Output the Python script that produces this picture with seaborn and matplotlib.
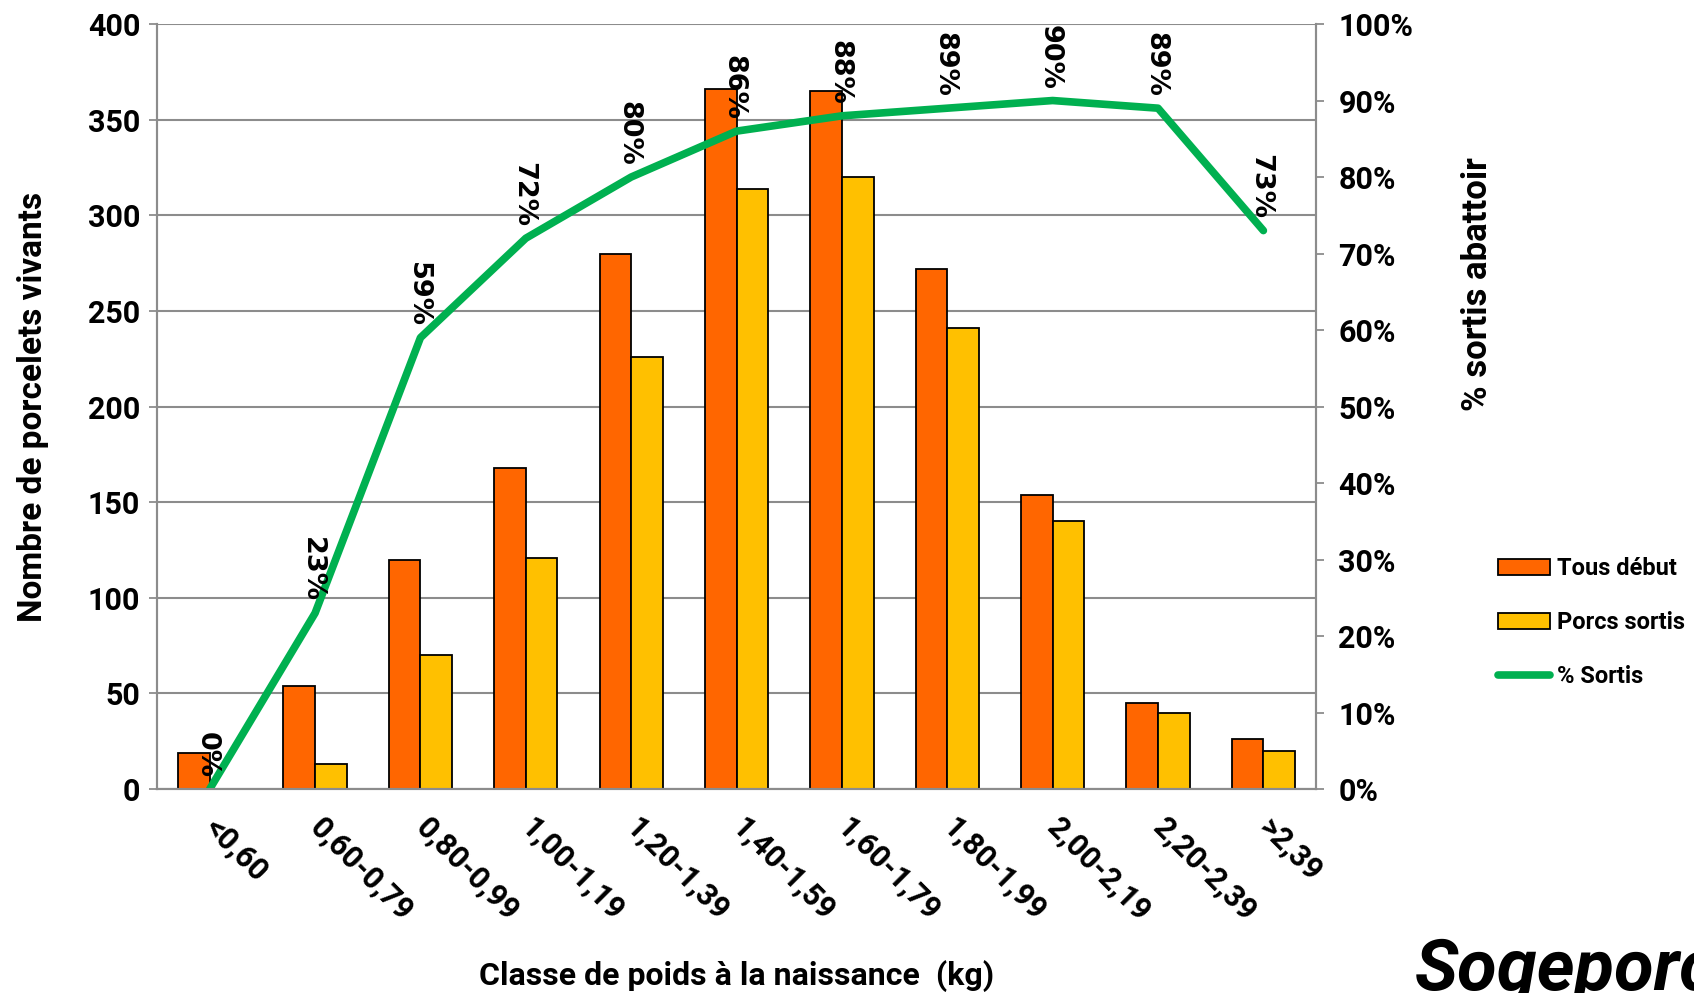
import matplotlib.pyplot as plt
import numpy as np
import pandas as pd
import seaborn as sns
from matplotlib.lines import Line2D
from matplotlib.patches import Patch

categories = ["<0,60", "0,60-0,79", "0,80-0,99", "1,00-1,19", "1,20-1,39", "1,40-1,59",
              "1,60-1,79", "1,80-1,99", "2,00-2,19", "2,20-2,39", ">2,39"]
tous_debut = [19, 54, 120, 168, 280, 366, 365, 272, 154, 45, 26]
porcs_sortis = [0, 13, 70, 121, 226, 314, 320, 241, 140, 40, 20]
pct_sortis = [0, 23, 59, 72, 80, 86, 88, 89, 90, 89, 73]

ORANGE = "#FF6600"
YELLOW = "#FFC000"
GREEN = "#00B050"
GRID = "#8C8C8C"

sns.set_style("white")
plt.rcParams["font.family"] = ["Roboto", "DejaVu Sans"]
plt.rcParams["font.weight"] = "bold"
for key in ["text.color", "axes.labelcolor", "xtick.labelcolor", "ytick.labelcolor"]:
    plt.rcParams[key] = "black"

df = pd.DataFrame({
    "classe": categories * 2,
    "serie": ["Tous début"] * len(categories) + ["Porcs sortis"] * len(categories),
    "nombre": tous_debut + porcs_sortis,
})

fig = plt.figure(figsize=(16.94, 9.93), dpi=100)
ax = fig.add_axes([0.0927, 0.2054, 0.6842, 0.7704])

sns.barplot(data=df, x="classe", y="nombre", hue="serie", order=categories,
            hue_order=["Tous début", "Porcs sortis"],
            palette={"Tous début": ORANGE, "Porcs sortis": YELLOW}, saturation=1,
            width=0.6, gap=0, edgecolor="black", linewidth=1.3, legend=False, ax=ax)

ax.set_xlim(-0.5, len(categories) - 0.5)
ax.set_ylim(0, 400)
ax.set_yticks(np.arange(0, 401, 50))
ax.yaxis.grid(True, color=GRID, lw=1.5)
ax.set_axisbelow(True)
ax.set_xticks(np.arange(len(categories)))
ax.set_xticklabels(categories, rotation=-45, ha="left", va="center",
                   rotation_mode="anchor", fontsize=22, fontweight="bold")
ax.set_xticks(np.arange(len(categories) + 1) - 0.5, minor=True)
ax.tick_params(axis="x", which="major", length=0, pad=24)
ax.tick_params(axis="x", which="minor", length=8, width=1.3, color=GRID, direction="out")
ax.tick_params(axis="y", labelsize=22, length=6, width=1.3, color=GRID, direction="out", pad=6)
for lab in ax.get_yticklabels():
    lab.set_fontweight("bold")
ax.set_xlabel("Classe de poids à la naissance  (kg)", fontsize=23, fontweight="bold", labelpad=24)
ax.set_ylabel("Nombre de porcelets vivants", fontsize=24, fontweight="bold", labelpad=28)
for s in ["left", "bottom", "right"]:
    ax.spines[s].set_color(GRID)
    ax.spines[s].set_linewidth(1.5)
ax.spines["top"].set_visible(False)

ax2 = ax.twinx()
sns.lineplot(x=np.arange(len(categories)), y=pct_sortis, color=GREEN, lw=5.5,
             solid_capstyle="round", ax=ax2)
ax2.set_ylim(0, 100)
ax2.set_yticks(np.arange(0, 101, 10))
ax2.set_yticklabels([f"{v}%" for v in range(0, 101, 10)], fontsize=22, fontweight="bold")
ax2.tick_params(axis="y", length=6, width=1.3, color=GRID, direction="out", pad=10)
for s in ["left", "bottom", "right"]:
    ax2.spines[s].set_color(GRID)
    ax2.spines[s].set_linewidth(1.5)
ax2.spines["top"].set_visible(False)
ax2.set_ylabel("% sortis abattoir", fontsize=25, fontweight="bold", rotation=90)
ax2.yaxis.set_label_coords(1.125, 0.66)

for i, p in enumerate(pct_sortis):
    ax2.annotate(f"{p}%", (i, p), xytext=(-2, 8), textcoords="offset points",
                 rotation=270, ha="center", va="bottom", fontsize=19.5,
                 fontweight="bold", family="DejaVu Sans", clip_on=False)

handles = [
    Patch(facecolor=ORANGE, edgecolor="black", lw=1.3, label="Tous début"),
    Patch(facecolor=YELLOW, edgecolor="black", lw=1.3, label="Porcs sortis"),
    Line2D([], [], color=GREEN, lw=5.5, solid_capstyle="round", label="% Sortis"),
]
fig.legend(handles=handles, loc="upper left", bbox_to_anchor=(0.872, 0.46),
           frameon=False, labelspacing=1.3, handlelength=2.2,
           handletextpad=0.3, prop={"weight": "bold", "size": 17})

fig.text(0.835, -0.012, "Sogeporc", fontsize=52, fontweight="bold", fontstyle="italic",
         ha="left", va="bottom", color="black")

fig.savefig("out.png", dpi=100)
